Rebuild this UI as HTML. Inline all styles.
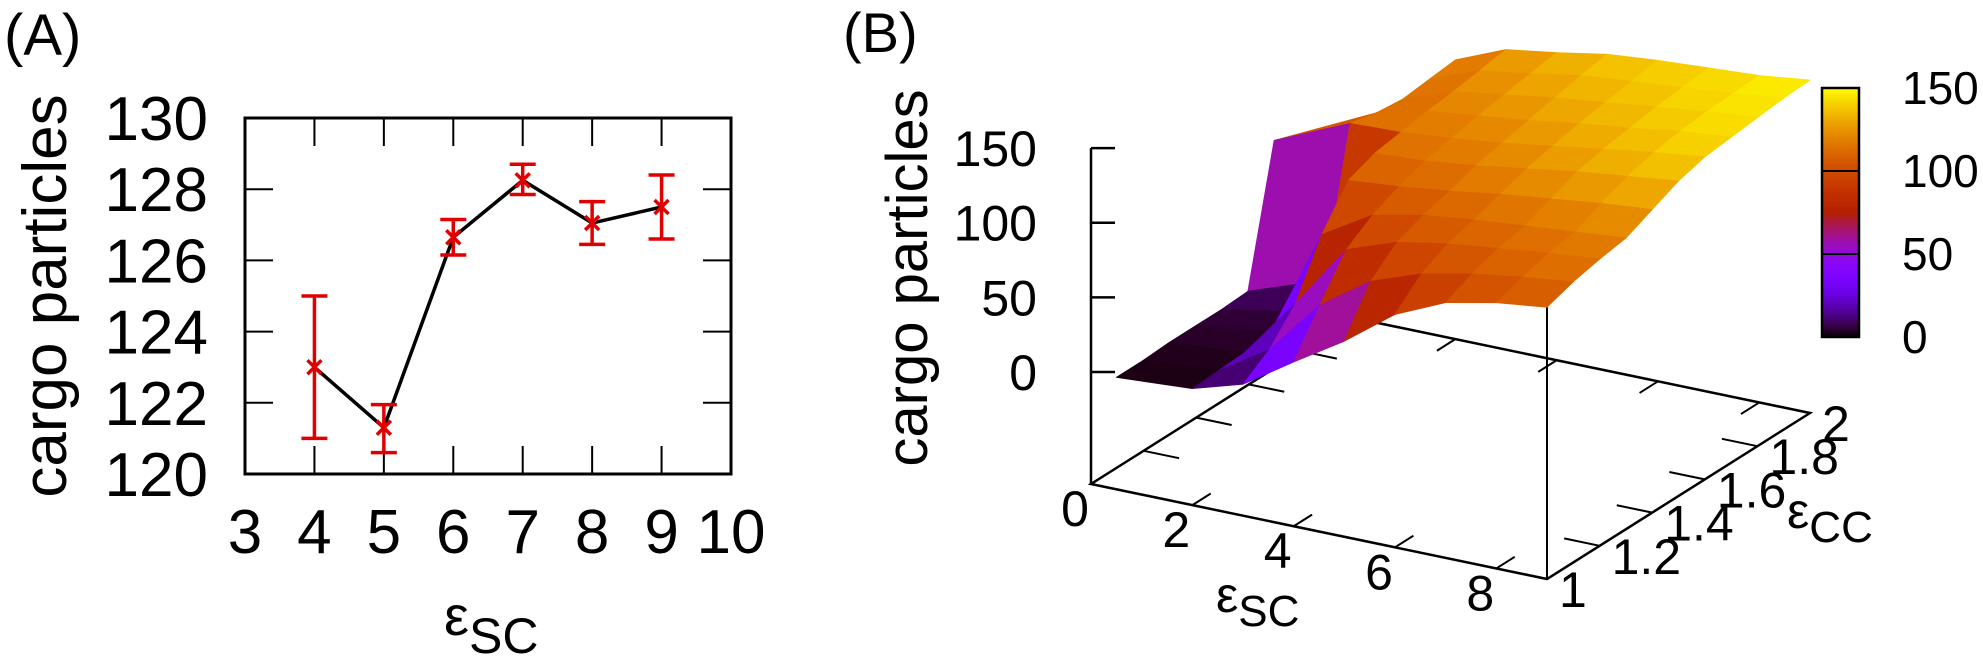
<!DOCTYPE html>
<html><head><meta charset="utf-8">
<style>
html,body{margin:0;padding:0;background:#fff;}
svg{display:block;}
text{font-family:"Liberation Sans",Arial,sans-serif;fill:#000;}
</style></head>
<body>
<svg id="fig" width="1983" height="658" viewBox="0 0 1983 658" xmlns="http://www.w3.org/2000/svg">
  <g id="panelA"></g>
  <g id="panelB"></g>
</svg>
<script>
// ---------- Panel A data ----------
const aX = [4, 5, 6, 7, 8, 9];
const aY = [123.0, 121.3, 126.65, 128.25, 127.05, 127.5];
const aLo = [121.0, 120.6, 126.15, 127.85, 126.45, 126.6];
const aHi = [125.0, 121.95, 127.15, 128.7, 127.65, 128.4];
const aXTicks = [3, 4, 5, 6, 7, 8, 9, 10];
const aYTicks = [120, 122, 124, 126, 128, 130];

// ---------- Panel B data ----------
const bX = [0.5, 2, 3, 4, 5, 6, 7, 8, 9];
const bCC = [1.0, 1.1, 1.2, 1.3, 1.4, 1.5, 1.6, 1.7, 1.8, 1.9, 2.0];
const bZ = [
  [0, 3, 13, 35, 56, 81, 96, 103, 107],
  [0, 4, 25, 62, 85, 97, 104, 109, 113],
  [1, 5, 45, 88, 100, 106, 110, 114, 117],
  [1, 8, 80, 100, 107, 111, 114, 117, 120],
  [1, 10, 105, 108, 112, 117, 121, 125, 128],
  [2, 20, 112, 114, 118, 123, 128, 132, 136],
  [92, 114, 115, 118, 122, 127, 132, 137, 141],
  [null, 110, 118, 122, 126, 131, 135, 140, 143],
  [null, 108, 120, 125, 130, 134, 138, 142, 145],
  [null, 110, 123, 128, 134, 137, 140, 143, 147],
  [null, 112, 126, 131, 137, 140, 142, 144, 148]
];
const bXTicks = [0, 2, 4, 6, 8];
const bCCTicks = ['1', '1.2', '1.4', '1.6', '1.8', '2'];
const bZTicks = [0, 50, 100, 150];
const cbTicks = [0, 50, 100, 150];

const NS = 'http://www.w3.org/2000/svg';
function mk(parent, tag, attrs, txt) {
  const e = document.createElementNS(NS, tag);
  for (const k in attrs) e.setAttribute(k, attrs[k]);
  if (txt !== undefined) e.textContent = txt;
  parent.appendChild(e);
  return e;
}

// ================= Panel A =================
(function(){
  const g = document.getElementById('panelA');
  const L = 245, R = 731, T = 118, B = 474;
  const sx = v => L + (v - 3) / 7 * (R - L);
  const sy = v => B - (v - 120) / 10 * (B - T);

  let t = mk(g, 'text', {x: 4, y: 55, 'font-size': 58}, '(A)');
  
  

  const frame = mk(g, 'rect', {x: L, y: T, width: R - L, height: B - T, fill: 'none', stroke: '#000', 'stroke-width': 3});
  
  

  aYTicks.forEach(v => {
    const y = sy(v);
    mk(g, 'line', {x1: L, y1: y, x2: L + 28, y2: y, stroke: '#000', 'stroke-width': 2});
    mk(g, 'line', {x1: R, y1: y, x2: R - 28, y2: y, stroke: '#000', 'stroke-width': 2});
    const lt = mk(g, 'text', {x: 208, y: y + 22, 'font-size': 62, 'text-anchor': 'end'}, String(v));
    
    
  });
  aXTicks.forEach(v => {
    const x = sx(v);
    mk(g, 'line', {x1: x, y1: B, x2: x, y2: B - 28, stroke: '#000', 'stroke-width': 2});
    mk(g, 'line', {x1: x, y1: T, x2: x, y2: T + 28, stroke: '#000', 'stroke-width': 2});
    const lt = mk(g, 'text', {x: x, y: 553, 'font-size': 62, 'text-anchor': 'middle'}, String(v));
    
    
  });

  const yl = mk(g, 'text', {x: 0, y: 0, 'font-size': 62, 'text-anchor': 'middle', transform: 'translate(66,296) rotate(-90)'}, 'cargo particles');
  
  

  const xl = mk(g, 'text', {x: 444, y: 635, 'font-size': 56}, '');
  
  
  mk(xl, 'tspan', {}, 'ε');
  mk(xl, 'tspan', {dy: 18, 'font-size': 50}, 'SC');

  const pts = aX.map((v, i) => sx(v) + ',' + sy(aY[i])).join(' ');
  const line = mk(g, 'polyline', {points: pts, fill: 'none', stroke: '#000', 'stroke-width': 3.5});
  
  

  aX.forEach((v, i) => {
    const x = sx(v), y = sy(aY[i]), y1 = sy(aLo[i]), y2 = sy(aHi[i]);
    const eg = mk(g, 'g', {stroke: '#e00000', 'stroke-width': 3.5, fill: 'none'});
    
    
    mk(eg, 'line', {x1: x, y1: y1, x2: x, y2: y2});
    mk(eg, 'line', {x1: x - 13, y1: y1, x2: x + 13, y2: y1});
    mk(eg, 'line', {x1: x - 13, y1: y2, x2: x + 13, y2: y2});
    const m = mk(g, 'path', {d: `M${x-7},${y-7}L${x+7},${y+7}M${x-7},${y+7}L${x+7},${y-7}`, stroke: '#e00000', 'stroke-width': 3.5});
    
    
  });
})();

// ================= Panel B =================
(function(){
  const g = document.getElementById('panelB');
  const O = [1091, 484];
  const VX = [456, 95];
  const VY = [263, -166];
  const ZS = 1.493, ZB = -75;
  const XMAX = 9;
  function P(x, cc, z) {
    const u = x / XMAX, w = cc - 1;
    return [O[0] + u * VX[0] + w * VY[0], O[1] + u * VX[1] + w * VY[1] - (z - ZB) * ZS];
  }
  function pal(v) {
    let t = Math.max(0, Math.min(1, v / 150));
    const r = Math.sqrt(t), gg = t * t * t, b = Math.max(0, Math.sin(2 * Math.PI * t));
    return `rgb(${Math.round(r*255)},${Math.round(gg*255)},${Math.round(b*255)})`;
  }

  let t = mk(g, 'text', {x: 843, y: 52, 'font-size': 56}, '(B)');
  
  

  const c0 = P(0, 1, ZB), c1 = P(XMAX, 1, ZB), c2 = P(XMAX, 2, ZB), c3 = P(0, 2, ZB);
  const base = mk(g, 'polygon', {points: [c0, c1, c2, c3].map(p => p.join(',')).join(' '), fill: 'none', stroke: '#000', 'stroke-width': 2.5});
  
  

  bXTicks.forEach(v => {
    const a = P(v, 1, ZB), b = P(v, 1.07, ZB);
    mk(g, 'line', {x1: a[0], y1: a[1], x2: b[0], y2: b[1], stroke: '#000', 'stroke-width': 2});
    const a2 = P(v, 2, ZB), b2 = P(v, 1.93, ZB);
    if (v > 0) mk(g, 'line', {x1: a2[0], y1: a2[1], x2: b2[0], y2: b2[1], stroke: '#000', 'stroke-width': 2});
    const lt = mk(g, 'text', {x: a[0] - 16, y: a[1] + 42, 'font-size': 50, 'text-anchor': 'middle'}, String(v));
    
    
  });
  bCCTicks.forEach(s => {
    const v = parseFloat(s);
    const a = P(XMAX, v, ZB), b = P(XMAX - 0.7, v, ZB);
    mk(g, 'line', {x1: a[0], y1: a[1], x2: b[0], y2: b[1], stroke: '#000', 'stroke-width': 2});
    const a2 = P(0, v, ZB), b2 = P(0.7, v, ZB);
    if (v > 1 && v < 2) mk(g, 'line', {x1: a2[0], y1: a2[1], x2: b2[0], y2: b2[1], stroke: '#000', 'stroke-width': 2});
    const lt = mk(g, 'text', {x: a[0] + 12, y: a[1] + 28, 'font-size': 50}, s);
    
    
  });
  const zt = P(0, 1, 150);
  mk(g, 'line', {x1: O[0], y1: O[1], x2: zt[0], y2: zt[1], stroke: '#000', 'stroke-width': 2.5});
  bZTicks.forEach(v => {
    const p = P(0, 1, v);
    mk(g, 'line', {x1: p[0], y1: p[1], x2: p[0] + 24, y2: p[1], stroke: '#000', 'stroke-width': 2.5});
    const lt = mk(g, 'text', {x: 1037, y: p[1] + 18, 'font-size': 50, 'text-anchor': 'end'}, String(v));
    
    
  });
  const zl = mk(g, 'text', {x: 0, y: 0, 'font-size': 58, 'text-anchor': 'middle', transform: 'translate(927,278) rotate(-90)'}, 'cargo particles');
  
  

  const xl = mk(g, 'text', {x: 1216, y: 612, 'font-size': 50}, '');
  
  
  mk(xl, 'tspan', {}, 'ε');
  mk(xl, 'tspan', {dy: 14, 'font-size': 44}, 'SC');
  const cl = mk(g, 'text', {x: 1787, y: 528, 'font-size': 50}, '');
  
  
  mk(cl, 'tspan', {}, 'ε');
  mk(cl, 'tspan', {dy: 14, 'font-size': 44}, 'CC');

  const vr = P(XMAX, 1, bZ[0][bX.length - 1]);
  mk(g, 'line', {x1: c1[0], y1: c1[1], x2: vr[0], y2: vr[1], stroke: '#000', 'stroke-width': 2});

  const quads = [];
  for (let j = 0; j < bCC.length - 1; j++) {
    for (let i = 0; i < bX.length - 1; i++) {
      const z4 = [bZ[j][i], bZ[j][i+1], bZ[j+1][i+1], bZ[j+1][i]];
      let pts;
      if (z4.some(v => v === null)) {
        const corners = [[bX[i], bCC[j], z4[0]], [bX[i+1], bCC[j], z4[1]], [bX[i+1], bCC[j+1], z4[2]], [bX[i], bCC[j+1], z4[3]]].filter(c => c[2] !== null);
        if (corners.length < 3) continue;
        pts = corners.map(c => P(c[0], c[1], c[2]));
      } else {
        pts = [P(bX[i], bCC[j], z4[0]), P(bX[i+1], bCC[j], z4[1]), P(bX[i+1], bCC[j+1], z4[2]), P(bX[i], bCC[j+1], z4[3])];
      }
      const vals = z4.filter(v => v !== null);
      const xm = (bX[i] + bX[i+1]) / 2, cm = (bCC[j] + bCC[j+1]) / 2;
      const depth = P(xm, cm, 0)[1];
      quads.push({pts, z: vals.reduce((a, b) => a + b, 0) / vals.length, depth});
    }
  }
  quads.sort((a, b) => a.depth - b.depth);
  const sg = mk(g, 'g', {});
  
  
  quads.forEach(q => {
    const c = pal(q.z);
    const el = mk(sg, 'polygon', {points: q.pts.map(p => p.join(',')).join(' '), fill: c, stroke: c, 'stroke-width': 0.8, 'stroke-linejoin': 'round'});
    
    
  });

  const CL = 1822, CR = 1859, CT = 88, CB = 337;
  const defs = mk(g, 'defs', {});
  const lg = mk(defs, 'linearGradient', {id: 'cbg', x1: 0, y1: 1, x2: 0, y2: 0});
  for (let k = 0; k <= 30; k++) mk(lg, 'stop', {offset: k / 30, 'stop-color': pal(150 * k / 30)});
  const cb = mk(g, 'rect', {x: CL, y: CT, width: CR - CL, height: CB - CT, fill: 'url(#cbg)', stroke: '#000', 'stroke-width': 2.5});
  
  
  cbTicks.forEach(v => {
    const y = CB - v / 150 * (CB - CT);
    if (v > 0 && v < 150) mk(g, 'line', {x1: CL, y1: y, x2: CR, y2: y, stroke: '#000', 'stroke-width': 2});
    const lt = mk(g, 'text', {x: 1902, y: y + 16, 'font-size': 46}, String(v));
    
    
  });
})();
</script>
</body></html>
